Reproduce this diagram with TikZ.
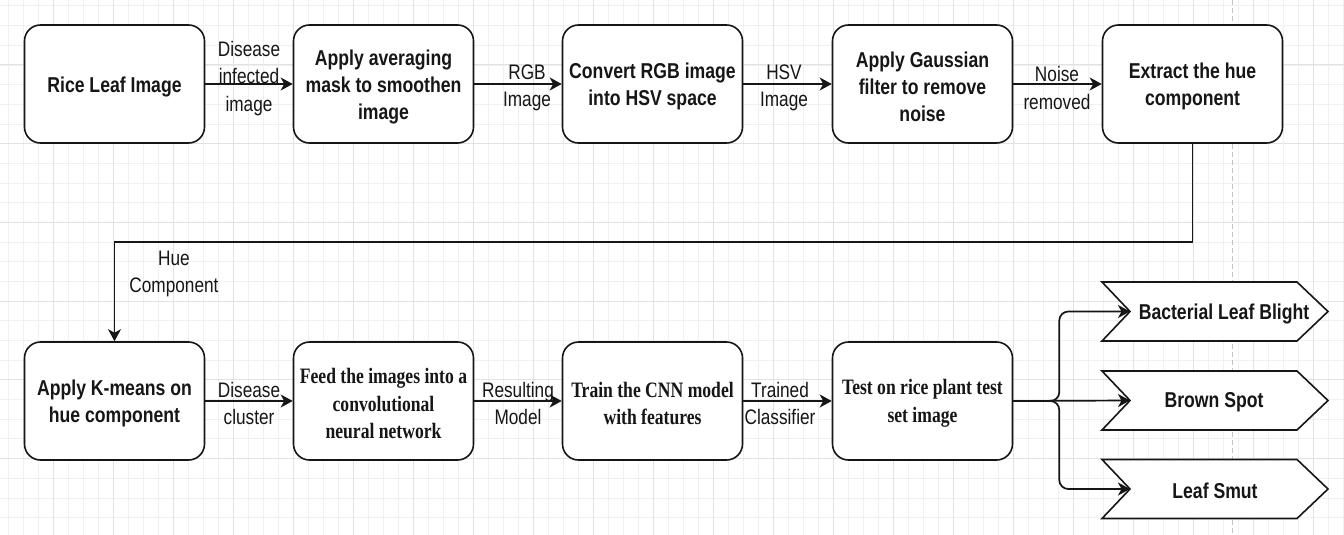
\documentclass[tikz,border=0pt]{standalone}
\usepackage{fontspec}
\usetikzlibrary{arrows.meta,calc}
\newfontfamily\boxsans[FakeStretch=0.82]{Liberation Sans}
\newfontfamily\boxserif[FakeStretch=0.80]{Liberation Serif}
\definecolor{gridminor}{HTML}{F0F0F0}
\definecolor{gridmajor}{HTML}{E2E2E2}
\definecolor{ink}{HTML}{161616}
\definecolor{pagebreak}{HTML}{C4C4C4}
\newcommand\chevshape[4]{%
  \draw[chev] (1102,#2-29.5) -- (1297,#2-29.5) -- (1328,#2) -- (1297,#2+29.5) -- (1102,#2+29.5) -- (1130,#2) -- cycle;
  \coordinate (#1) at (1130,#2);
  \node[chevtxt] (#1t) at (#4,#2+2) {#3};
}
\newcommand\stepbox[5]{%
  \node[box] (#1) at (#2,#3) {};
  \node[#4] (#1t) at ($(#1.center)+(0,2.5)$) {#5};
}
\begin{document}
\begin{tikzpicture}[x=1pt,y=-1pt,
  box/.style={draw=ink, line width=1.6pt, rounded corners=16pt, fill=white,
    minimum width=180pt, minimum height=118pt, inner sep=0pt},
  tsans/.style={align=center, inner sep=0pt, text=ink,
    font=\boxsans\bfseries\fontsize{21.5}{27}\selectfont},
  tserif/.style={align=center, inner sep=0pt, text=ink,
    font=\boxserif\bfseries\fontsize{22}{27.5}\selectfont},
  lbl/.style={align=center, inner sep=0pt, text=ink,
    font=\boxsans\fontsize{21}{27.5}\selectfont},
  arr/.style={draw=ink, line width=1.7pt, -{Stealth[length=12pt,width=13pt,inset=3.5pt]}},
  chev/.style={draw=ink, line width=1.6pt, fill=white, line join=miter},
  chevtxt/.style={inner sep=0pt, text=ink, font=\boxsans\bfseries\fontsize{21.5}{27}\selectfont}
]
\useasboundingbox (0,0) rectangle (1344,535);
\fill[white] (0,0) rectangle (1344,535);
% background grid
\foreach \i in {0,...,89} {\pgfmathsetmacro\gx{8+15*\i}
  \draw[gridminor, line width=1pt] (\gx,0) -- (\gx,535);}
\foreach \i in {0,...,27} {\pgfmathsetmacro\gy{6.0+19.68*\i}
  \draw[gridminor, line width=1pt] (0,\gy) -- (1344,\gy);}
\foreach \i in {0,...,21} {\pgfmathsetmacro\gx{53+60*\i}
  \draw[gridmajor, line width=1pt] (\gx,0) -- (\gx,535);}
\foreach \i in {0,...,5} {\pgfmathsetmacro\gy{65.0+78.72*\i}
  \draw[gridmajor, line width=1pt] (0,\gy) -- (1344,\gy);}
\draw[pagebreak, line width=1.2pt, dash pattern=on 5pt off 3pt] (1232.5,0) -- (1232.5,535);

% row 1
\stepbox{b1}{114.5}{84}{tsans}{Rice Leaf Image}
\stepbox{b2}{383.5}{84}{tsans}{Apply averaging\\mask to smoothen\\image}
\stepbox{b3}{652.5}{84}{tsans}{Convert RGB image\\into HSV space}
\stepbox{b4}{922.5}{84}{tsans}{Apply Gaussian\\filter to remove\\noise}
\stepbox{b5}{1192.5}{84}{tsans}{Extract the hue\\component}
% row 2
\stepbox{b6}{114.5}{401}{tsans}{Apply K-means on\\hue component}
\stepbox{b7}{383.5}{401}{tserif}{Feed the images into a\\convolutional\\neural network}
\stepbox{b8}{652.5}{401}{tserif}{Train the CNN model\\with features}
\stepbox{b9}{922.5}{401}{tserif}{Test on rice plant test\\set image}

% chevrons
\chevshape{c1}{311.5}{Bacterial Leaf Blight}{1224}
\chevshape{c2}{400.5}{Brown Spot}{1214}
\chevshape{c3}{489}{Leaf Smut}{1215}

% connectors
\draw[arr] (b1) -- (b2);
\draw[arr] (b2) -- (b3);
\draw[arr] (b3) -- (b4);
\draw[arr] (b4) -- (b5);
\draw[arr] (b5.south) -- ++(0,98.5) -| (b6.north);
\draw[arr] (b6) -- (b7);
\draw[arr] (b7) -- (b8);
\draw[arr] (b8) -- (b9);
\draw[arr] (b9.east) -- (c2);
\draw[arr, rounded corners=9pt] (b9.east) -- ++(46,0) |- (c1);
\draw[arr, rounded corners=9pt] (b9.east) -- ++(46,0) |- (c3);

% labels
\node[lbl] (l1) at (249,78.5) {Disease\\infected\\image};
\node[lbl] (l2) at (527,88) {RGB\\Image};
\node[lbl] (l3) at (784,88) {HSV\\Image};
\node[lbl] (l4) at (1057,88) {Noise\\removed};
\node[lbl] (l5) at (174,274) {Hue\\Component};
\node[lbl] (l6) at (249,403.5) {Disease\\cluster};
\node[lbl] (l7) at (518,403.5) {Resulting\\Model};
\node[lbl] (l8) at (780,403.5) {Trained\\Classifier};
\end{tikzpicture}
\end{document}
